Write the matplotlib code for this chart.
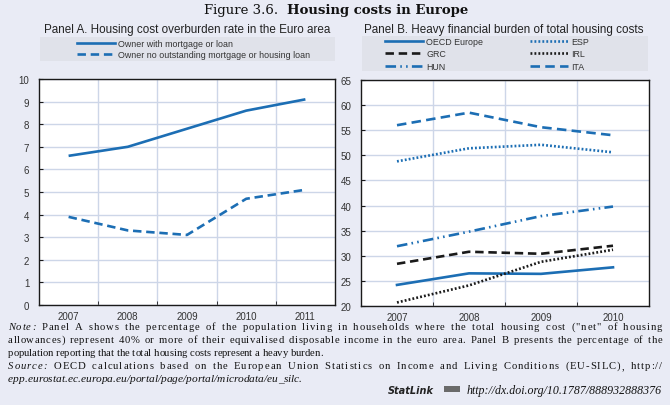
import matplotlib
matplotlib.use('Agg')
import matplotlib.pyplot as plt
from matplotlib.lines import Line2D
from matplotlib.patches import Rectangle

# Panel A data
years_a = ['2007', '2008', '2009', '2010', '2011']
with_mortgage = [6.6, 7.0, 7.8, 8.6, 9.1]
no_mortgage = [3.9, 3.3, 3.1, 4.7, 5.1]

# Panel B data
years_b = ['2007', '2008', '2009', '2010']
oecd_europe = [24.2, 26.5, 26.4, 27.7]
grc = [28.4, 30.8, 30.4, 32.0]
hun = [31.9, 34.8, 37.9, 39.8]
esp = [48.8, 51.4, 52.1, 50.6]
irl = [20.7, 24.1, 28.8, 31.2]
ita = [56.0, 58.5, 55.6, 54.0]

W, H = 670, 406
BG = '#e9ebf5'
LEG_BG = '#e0e2ea'
BLUE = '#1c6eb4'
BLACK = '#1a1a1a'
GRID = '#cdd6e8'
SANS = ['Liberation Sans', 'DejaVu Sans']
TITLE_SERIF = ['DejaVu Serif']
NOTE_SERIF = ['Liberation Serif', 'DejaVu Serif']

fig = plt.figure(figsize=(W / 100, H / 100), dpi=100, facecolor=BG)


def fx(x):
    return x / W


def fy(y):
    return 1 - y / H


def style_axes(ax, ncat, ylim, yticks):
    ax.set_facecolor('white')
    ax.set_xlim(-0.5, ncat - 0.5)
    ax.set_ylim(*ylim)
    ax.set_yticks(yticks)
    ax.set_xticks(range(ncat))
    ax.set_xticks([i + 0.5 for i in range(ncat - 1)], minor=True)
    ax.grid(True, which='minor', axis='x', color=GRID, lw=1.0)
    ax.grid(True, which='major', axis='y', color=GRID, lw=1.0)
    ax.set_axisbelow(True)
    ax.tick_params(axis='x', which='major', length=0, pad=4, labelsize=7, labelcolor='#333333')
    ax.tick_params(axis='x', which='minor', length=3, direction='in', color=BLACK)
    ax.tick_params(axis='y', length=3, direction='in', pad=7, labelsize=7, labelcolor='#333333', color=BLACK)
    for lab in ax.get_xticklabels() + ax.get_yticklabels():
        lab.set_family(SANS)
    for sp in ax.spines.values():
        sp.set_color(BLACK)
        sp.set_linewidth(1.0)


# ---- Panel A ----
ax1 = fig.add_axes([fx(39), fy(306), fx(335) - fx(39), fy(80) - fy(306)])
xa = range(len(years_a))
ax1.plot(xa, with_mortgage, color=BLUE, lw=1.9, solid_capstyle='butt')
ax1.plot(xa, no_mortgage, color=BLUE, lw=1.9, ls=(0, (3.2, 1.8)))
ax1.set_xticklabels(years_a)
style_axes(ax1, len(years_a), (0, 10), range(0, 11))

# ---- Panel B ----
ax2 = fig.add_axes([fx(361), fy(307), fx(649) - fx(361), fy(81) - fy(307)])
xb = range(len(years_b))
series_b = [
    ('OECD Europe', oecd_europe, BLUE, '-'),
    ('GRC', grc, BLACK, (0, (3.2, 1.8))),
    ('HUN', hun, BLUE, (0, (4, 1.6, 0.6, 1.6, 0.6, 1.6))),
    ('ESP', esp, BLUE, (0, (0.7, 0.8))),
    ('IRL', irl, BLACK, (0, (0.7, 0.8))),
    ('ITA', ita, BLUE, (0, (3.6, 2.0))),
]
handles_b = []
for name, vals, col, ls in series_b:
    ln, = ax2.plot(xb, vals, color=col, lw=1.9, ls=ls, label=name)
    handles_b.append(ln)
ax2.set_xticklabels(years_b)
style_axes(ax2, len(years_b), (20, 65), range(20, 66, 5))

# ---- titles ----
fig.text(fx(278), fy(14), 'Figure 3.6.', ha='right', va='baseline', fontsize=9.5,
         family=TITLE_SERIF, color='#111111')
fig.text(fx(287), fy(14), 'Housing costs in Europe', ha='left', va='baseline', fontsize=9.5,
         family=TITLE_SERIF, weight='bold', color='#111111')
fig.text(fx(187), fy(30), 'Panel A. Housing cost overburden rate in the Euro area', ha='center',
         va='center', fontsize=8.4, family=SANS, color='#222222')
fig.text(fx(504), fy(30), 'Panel B. Heavy financial burden of total housing costs', ha='center',
         va='center', fontsize=8.4, family=SANS, color='#222222')

# ---- legend boxes ----
fig.add_artist(Rectangle((fx(40), fy(62)), fx(335) - fx(40), fy(38) - fy(62),
                         transform=fig.transFigure, facecolor=LEG_BG, edgecolor='none'))
fig.add_artist(Rectangle((fx(362), fy(72)), fx(648) - fx(362), fy(37) - fy(72),
                         transform=fig.transFigure, facecolor=LEG_BG, edgecolor='none'))

leg_kw = dict(frameon=False, handlelength=4.3, handletextpad=0.35, labelspacing=0.2,
              borderpad=0, borderaxespad=0, loc='upper left', prop={'family': SANS, 'size': 6.4})
handles_a = [Line2D([], [], color=BLUE, lw=1.9),
             Line2D([], [], color=BLUE, lw=1.9, ls=(0, (3.2, 1.8)))]
la = fig.legend(handles_a, ['Owner with mortgage or loan', 'Owner no outstanding mortgage or housing loan'],
                bbox_to_anchor=(fx(77), fy(40)), **leg_kw)
leg_kw['labelspacing'] = 0.38
lb1 = fig.legend(handles_b[:3], [s[0] for s in series_b[:3]], bbox_to_anchor=(fx(385), fy(38)), **leg_kw)
lb2 = fig.legend(handles_b[3:], [s[0] for s in series_b[3:]], bbox_to_anchor=(fx(530), fy(38)), **leg_kw)
for lg in (la, lb1, lb2):
    for t in lg.get_texts():
        t.set_color('#333333')

# ---- notes ----
renderer = fig.canvas.get_renderer()
NOTE_FS = 7.7
ITAL_FS = 8.2
_adv = {}


def advance(ch, st, fs):
    # advance width of one character, measured between two bars
    key = (ch, st, fs)
    if key not in _adv:
        t1 = fig.text(0, 0, '|' + ch + '|', fontsize=fs, family=NOTE_SERIF, style=st)
        t2 = fig.text(0, 0, '||', fontsize=fs, family=NOTE_SERIF, style=st)
        _adv[key] = t1.get_window_extent(renderer).width - t2.get_window_extent(renderer).width
        t1.remove()
        t2.remove()
    return _adv[key]


def note_line(parts, y, x0=8, x1=662, justify=True):
    # every character is placed on its own so a justified line is spread out;
    # word spaces take a bigger share of the slack than letter gaps
    chars = [(ch, st, fs) for s, st, fs in parts for ch in s]
    widths = [advance(ch, st, fs) for ch, st, fs in chars]
    weights = [3.0 if ch == ' ' else 1.0 for ch, _, _ in chars[:-1]] + [0.0]
    unit = (x1 - x0 - sum(widths)) / sum(weights) if justify else 0
    x = x0
    for (ch, st, fs), w, k in zip(chars, widths, weights):
        if ch != ' ':
            fig.text(fx(x), fy(y), ch, fontsize=fs, family=NOTE_SERIF, style=st,
                     va='baseline', color='#111111')
        x += w + unit * k


note1 = ' Panel A shows the percentage of the population living in households where the total housing cost ("net" of housing'
note2 = 'allowances) represent 40% or more of their equivalised disposable income in the euro area. Panel B presents the percentage of the'
note3 = 'population reporting that the total housing costs represent a heavy burden.'
source1 = ' OECD calculations based on the European Union Statistics on Income and Living Conditions (EU-SILC), http://'
source2 = 'epp.eurostat.ec.europa.eu/portal/page/portal/microdata/eu_silc.'
statlink_url = 'http://dx.doi.org/10.1787/888932888376'

note_line([('Note:', 'italic', NOTE_FS), (note1, 'normal', NOTE_FS)], 330)
note_line([(note2, 'normal', NOTE_FS)], 343)
note_line([(note3, 'normal', NOTE_FS)], 356, justify=False)
note_line([('Source:', 'italic', NOTE_FS), (source1, 'normal', NOTE_FS)], 369)
note_line([(source2, 'italic', ITAL_FS)], 382, justify=False)

fig.text(fx(662), fy(394), statlink_url, ha='right', va='baseline', fontsize=8.6,
         family=NOTE_SERIF, style='italic', color='#111111')
fig.add_artist(Rectangle((fx(444), fy(393)), fx(16) - fx(0), fy(0) - fy(6),
                         transform=fig.transFigure, facecolor='#6a6a6a', edgecolor='none'))
fig.text(fx(434), fy(394), 'StatLink', ha='right', va='baseline', fontsize=7,
         family=['DejaVu Sans'], style='italic', weight='bold', color='#222222')

fig.savefig('out.png', dpi=100, facecolor=BG)
